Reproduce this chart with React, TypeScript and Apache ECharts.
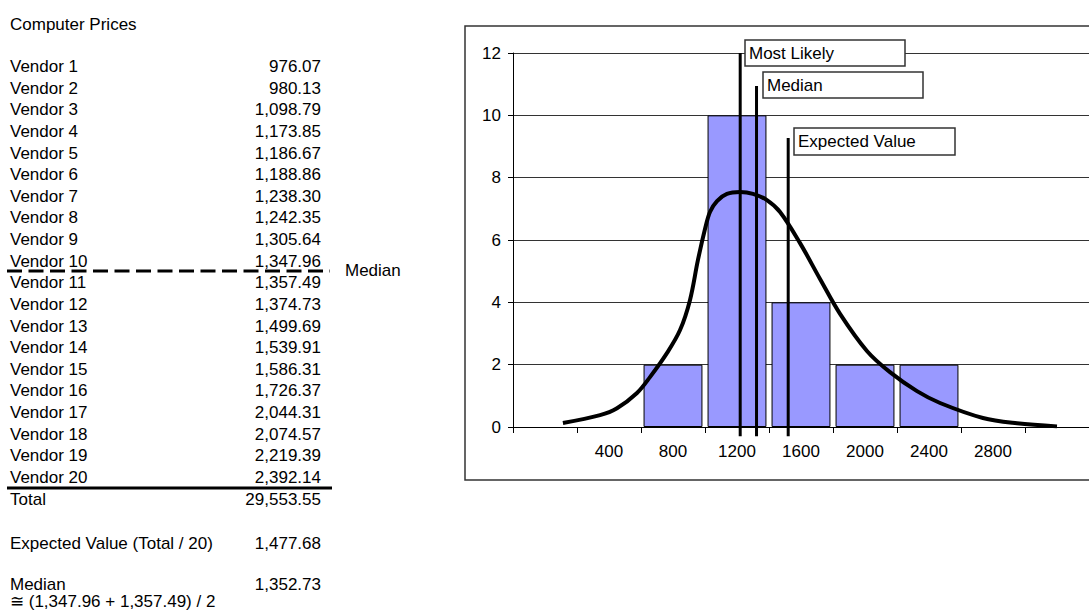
import React, { useEffect, useRef } from "react";
import * as echarts from "echarts";

const vendors = [
  "Vendor 1", "Vendor 2", "Vendor 3", "Vendor 4", "Vendor 5", "Vendor 6", "Vendor 7",
  "Vendor 8", "Vendor 9", "Vendor 10", "Vendor 11", "Vendor 12", "Vendor 13", "Vendor 14",
  "Vendor 15", "Vendor 16", "Vendor 17", "Vendor 18", "Vendor 19", "Vendor 20",
];
const prices = [
  976.07, 980.13, 1098.79, 1173.85, 1186.67, 1188.86, 1238.3, 1242.35, 1305.64, 1347.96,
  1357.49, 1374.73, 1499.69, 1539.91, 1586.31, 1726.37, 2044.31, 2074.57, 2219.39, 2392.14,
];
const totalValue = 29553.55;
const expectedValue = 1477.68;
const medianValue = 1352.73;

const categories = ["", "400", "800", "1200", "1600", "2000", "2400", "2800", ""];
const counts: (number | null)[] = [null, null, 2, 10, 4, 2, 2, null, null];

const curvePoints: [number, number][] = [
  [112, 0.13], [344, 0.38], [450, 0.6], [575, 1.09], [656, 1.6], [762, 2.37], [844, 3.11],
  [906, 4.07], [956, 5.36], [1000, 6.35], [1031, 6.9], [1075, 7.25], [1137, 7.48],
  [1219, 7.54], [1300, 7.48], [1387, 7.28], [1469, 6.9], [1594, 5.9], [1719, 4.75],
  [1844, 3.63], [2012, 2.44], [2156, 1.76], [2325, 1.15], [2469, 0.77], [2737, 0.29],
  [2950, 0.12], [3200, 0.02],
];

const markerNames = ["Most Likely", "Median", "Expected Value"];
const markerX = [1220, 1322, 1520];
const markerTop = [12, 10.94, 9.27];
const markerBottom = -0.3;

const FONT = '17px "Liberation Sans", Arial, sans-serif';

const fmt = (v: number) =>
  v.toLocaleString("en-US", { minimumFractionDigits: 2, maximumFractionDigits: 2 });

function txt(text: string, x: number, y: number, align: string = "left") {
  return {
    type: "text",
    silent: true,
    style: {
      text,
      x,
      y,
      font: FONT,
      fill: "#000",
      align,
      verticalAlign: "middle",
      textAlign: align,
      textVerticalAlign: "middle",
    },
  };
}

export default function App() {
  const ref = useRef<HTMLDivElement>(null);

  useEffect(() => {
    if (!ref.current) return;
    const chart = echarts.init(ref.current, undefined, { renderer: "svg" });

    const rowY0 = 66.7;
    const rowStep = 21.61;
    const numX = 321;
    const graphics: any[] = [];

    graphics.push(txt("Computer Prices", 10, 24));
    vendors.forEach((v, i) => {
      const y = rowY0 + i * rowStep;
      graphics.push(txt(v, 10, y));
      graphics.push(txt(fmt(prices[i]), numX, y, "right"));
    });
    // median dashed line
    graphics.push({
      type: "line",
      silent: true,
      shape: { x1: 7, y1: 271, x2: 330, y2: 271 },
      style: { stroke: "#000", lineWidth: 3, lineDash: [15, 6.5] },
    });
    graphics.push(txt("Median", 345, 270));
    // total line
    graphics.push({
      type: "line",
      silent: true,
      shape: { x1: 7, y1: 488, x2: 332, y2: 488 },
      style: { stroke: "#000", lineWidth: 3 },
    });
    graphics.push(txt("Total", 10, 499));
    graphics.push(txt(fmt(totalValue), numX, 499, "right"));
    graphics.push(txt("Expected Value (Total / 20)", 10, 543));
    graphics.push(txt(fmt(expectedValue), numX, 543, "right"));
    graphics.push(txt("Median", 10, 584));
    graphics.push(txt(fmt(medianValue), numX, 584, "right"));
    graphics.push(txt("\u2245 (1,347.96 + 1,357.49) / 2", 10, 601));

    // chart frame
    graphics.push({
      type: "rect",
      silent: true,
      shape: { x: 465, y: 26, width: 700, height: 454 },
      style: { fill: "none", stroke: "#333", lineWidth: 1.5 },
    });

    // annotation boxes
    const boxes = [
      { x: 745, y: 40, w: 160, h: 26 },
      { x: 763, y: 72, w: 160, h: 26 },
      { x: 794, y: 128, w: 161, h: 27 },
    ];
    boxes.forEach((b, i) => {
      graphics.push({
        type: "rect",
        silent: true,
        z: 10,
        shape: { x: b.x, y: b.y, width: b.w, height: b.h },
        style: { fill: "#fff", stroke: "#333", lineWidth: 1.5 },
      });
      const t: any = txt(markerNames[i], b.x + 4, b.y + b.h / 2);
      t.z = 11;
      graphics.push(t);
    });

    const markerSeries = markerX.map((x, i) => ({
      type: "line",
      name: markerNames[i],
      xAxisIndex: 1,
      yAxisIndex: 0,
      data: [
        [x, markerBottom],
        [x, markerTop[i]],
      ],
      symbol: "none",
      clip: false,
      z: 5,
      lineStyle: { color: "#000", width: 3, cap: "butt" },
      silent: true,
    }));

    chart.setOption({
      animation: false,
      backgroundColor: "#fff",
      textStyle: { fontFamily: '"Liberation Sans", Arial, sans-serif' },
      grid: { left: 513, top: 53, width: 576, height: 374, containLabel: false, show: false },
      xAxis: [
        {
          type: "category",
          data: categories,
          boundaryGap: true,
          axisLine: { show: true, onZero: false, lineStyle: { color: "#000", width: 1 } },
          axisTick: { show: true, interval: 0, length: 6, lineStyle: { color: "#000" } },
          axisLabel: { interval: 0, fontSize: 17, color: "#000", margin: 16 },
          splitLine: { show: false },
          splitArea: { show: false },
        },
        {
          type: "value",
          min: -200,
          max: 3400,
          show: false,
          axisLine: { show: false, onZero: false },
          axisTick: { show: false },
          axisLabel: { show: false },
          splitLine: { show: false },
          splitArea: { show: false },
        },
      ],
      yAxis: {
        type: "value",
        min: 0,
        max: 12,
        interval: 2,
        axisLine: { show: true, onZero: false, lineStyle: { color: "#000", width: 1 } },
        axisTick: { show: true, length: 5, lineStyle: { color: "#000" } },
        axisLabel: { fontSize: 17, color: "#000", margin: 12 },
        splitLine: { show: true, lineStyle: { color: "#333", width: 1 } },
      },
      series: [
        {
          type: "bar",
          name: "Frequency",
          xAxisIndex: 0,
          data: counts,
          barCategoryGap: "8%",
          itemStyle: { color: "#9999ff", borderColor: "#000", borderWidth: 1 },
          silent: true,
        },
        {
          type: "line",
          name: "Distribution",
          xAxisIndex: 1,
          data: curvePoints,
          smooth: 0.35,
          symbol: "none",
          z: 4,
          lineStyle: { color: "#000", width: 4 },
          silent: true,
        },
        ...markerSeries,
      ],
      graphic: graphics,
    });

    return () => chart.dispose();
  }, []);

  return (
    <div
      ref={ref}
      style={{ position: "absolute", left: 0, top: 0, width: 1089, height: 614 }}
    />
  );
}
